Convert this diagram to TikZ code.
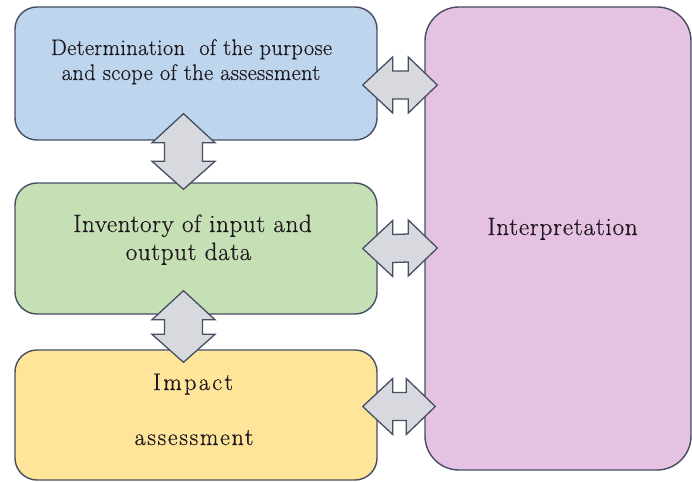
\documentclass[tikz,border=0pt]{standalone}
\usepackage{fontspec}
\setmainfont{Latin Modern Roman}
\newfontfamily\fontA[LetterSpace=1.4,FakeBold=0.5]{Latin Modern Roman}
\newfontfamily\fontB[LetterSpace=2.6,FakeBold=0.5]{Latin Modern Roman}
\newfontfamily\fontC[LetterSpace=10,FakeBold=0.5]{Latin Modern Roman}
\newfontfamily\fontD[LetterSpace=7,FakeBold=0.5]{Latin Modern Roman}
\newfontfamily\fontE[LetterSpace=3.3,FakeBold=0.5]{Latin Modern Roman}
\usetikzlibrary{calc}
\definecolor{bluefill}{RGB}{190,214,237}
\definecolor{greenfill}{RGB}{198,224,181}
\definecolor{yellowfill}{RGB}{255,229,153}
\definecolor{pinkfill}{RGB}{229,193,226}
\definecolor{edgecol}{RGB}{70,78,100}
\definecolor{arrowfill}{RGB}{216,217,222}
\definecolor{txtcol}{RGB}{30,24,30}
\newcommand\HDbl[2]{%
  \draw[dblarrow] (#1) -- ($(#1)+(30,-28)$) -- ($(#1)+(30,-14)$) -- ($(#2)+(-29,-14)$) -- ($(#2)+(-29,-28)$) -- (#2)
   -- ($(#2)+(-29,28)$) -- ($(#2)+(-29,14)$) -- ($(#1)+(30,14)$) -- ($(#1)+(30,28)$) -- cycle;}
\newcommand\VDbl[2]{%
  \draw[dblarrow] (#1) -- ($(#1)+(31.5,29)$) -- ($(#1)+(19,29)$) -- ($(#2)+(19,-28)$) -- ($(#2)+(31.5,-28)$) -- (#2)
   -- ($(#2)+(-31.5,-28)$) -- ($(#2)+(-19,-28)$) -- ($(#1)+(-19,29)$) -- ($(#1)+(-31.5,29)$) -- cycle;}
\begin{document}
\begin{tikzpicture}[x=1pt,y=-1pt,
  box/.style={draw=edgecol, line width=1.4pt, rounded corners=22pt, minimum width=362pt, inner sep=0pt},
  dblarrow/.style={draw=edgecol, line width=1.3pt, fill=arrowfill, line join=miter},
  txt/.style={anchor=base, inner sep=0pt, text=txtcol}]
\useasboundingbox (0,0) rectangle (692,481);
\fill[white] (0,0) rectangle (692,481);
\node[box, fill=bluefill, minimum height=133pt] (blue) at (196,73.5) {};
\node[box, fill=greenfill, minimum height=131pt] (green) at (196,248.5) {};
\node[box, fill=yellowfill, minimum height=130pt] (yellow) at (196,415) {};
\node[box, fill=pinkfill, minimum width=266pt, minimum height=463pt, rounded corners=34pt] (pink) at (558,238.5) {};
% texts
\node[txt, font={\fontA\fontsize{22.5}{26}\selectfont}] (t1a) at (191.5,55) {Determination\ \ of the purpose};
\node[txt, font={\fontA\fontsize{22.5}{26}\selectfont}] (t1b) at (191,80) {and scope of the assessment};
\node[txt, font={\fontB\fontsize{25}{28}\selectfont}] (t2a) at (192.5,232) {Inventory of input and};
\node[txt, font={\fontB\fontsize{25}{28}\selectfont}] (t2b) at (188.5,260) {output data};
\node[txt, font={\fontC\fontsize{24}{28}\selectfont}] (t3a) at (193,390) {Impact};
\node[txt, font={\fontD\fontsize{24}{28}\selectfont}] (t3b) at (194,445) {assessment};
\node[txt, font={\fontE\fontsize{25}{28}\selectfont}] (t4) at (562.5,235) {Interpretation};
% arrow end points
\coordinate (h1L) at ($(blue.east)+(-15,11.5)$);
\coordinate (h1R) at ($(pink.west)+(13,-153.5)$);
\coordinate (h2L) at ($(green.east)+(-15,0)$);
\coordinate (h2R) at ($(pink.west)+(13,9.5)$);
\coordinate (h3L) at ($(yellow.east)+(-15,-8.5)$);
\coordinate (h3R) at ($(pink.west)+(11,168)$);
\coordinate (v1T) at ($(blue.south)+(-12.5,-27)$);
\coordinate (v1B) at ($(green.north)+(-12.5,7)$);
\coordinate (v2T) at ($(green.south)+(-12.5,-24)$);
\coordinate (v2B) at ($(yellow.north)+(-12.5,13)$);
\HDbl{h1L}{h1R}
\HDbl{h2L}{h2R}
\HDbl{h3L}{h3R}
\VDbl{v1T}{v1B}
\VDbl{v2T}{v2B}
\end{tikzpicture}
\end{document}
